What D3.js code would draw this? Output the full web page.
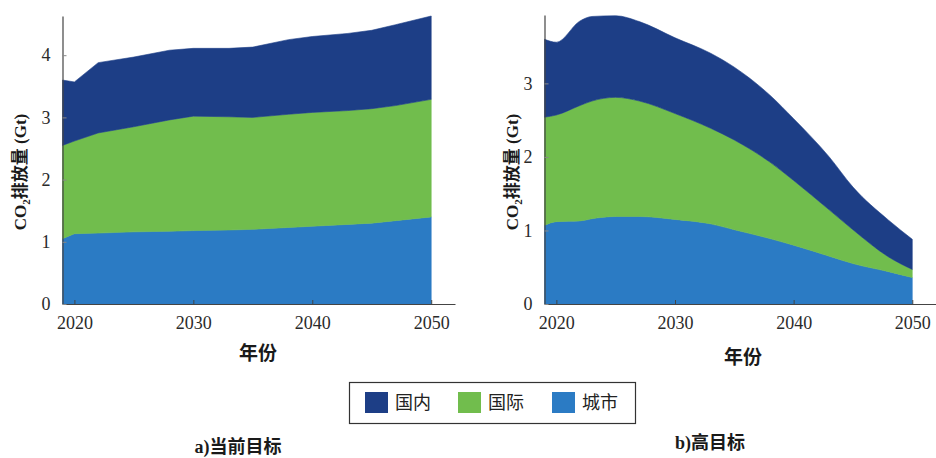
<!DOCTYPE html>
<html>
<head>
<meta charset="utf-8">
<script src="https://cdn.jsdelivr.net/npm/d3@7"></script>
<style>
  html, body { margin: 0; padding: 0; background: #fff; }
  svg { display: block; }
</style>
</head>
<body>
<svg id="chart" width="936" height="458"></svg>
<script>
// Series names (stack order: bottom to top) and colours
const seriesNames = ["城市", "国际", "国内"];
const seriesColors = ["#2b7bc4", "#71bd4d", "#1d3e86"];
const legendOrder = ["国内", "国际", "城市"];

// a) 当前目标 — CO2 emissions (Gt) by year
const yearsA = [2019, 2020, 2022, 2025, 2028, 2030, 2033, 2035, 2038, 2040, 2043, 2045, 2047, 2050];
const cityA     = [1.05, 1.13, 1.14, 1.16, 1.17, 1.18, 1.19, 1.20, 1.23, 1.25, 1.28, 1.30, 1.34, 1.40];
const intlA     = [1.50, 1.49, 1.61, 1.69, 1.79, 1.84, 1.82, 1.80, 1.82, 1.83, 1.83, 1.84, 1.85, 1.89];
const domesticA = [1.05, 0.95, 1.13, 1.12, 1.12, 1.09, 1.10, 1.13, 1.20, 1.22, 1.24, 1.26, 1.30, 1.34];

// b) 高目标 — CO2 emissions (Gt) by year
const yearsB = [2019, 2020, 2022, 2023, 2025, 2027, 2030, 2033, 2035, 2038, 2040, 2043, 2045, 2048, 2050];
const cityB     = [1.07, 1.12, 1.13, 1.16, 1.19, 1.19, 1.15, 1.09, 1.01, 0.89, 0.80, 0.65, 0.55, 0.44, 0.36];
const intlB     = [1.47, 1.45, 1.57, 1.60, 1.62, 1.57, 1.44, 1.30, 1.22, 1.04, 0.88, 0.63, 0.46, 0.20, 0.11];
const domesticB = [1.06, 0.99, 1.15, 1.15, 1.11, 1.08, 1.03, 1.02, 0.99, 0.91, 0.84, 0.72, 0.58, 0.50, 0.41];

// Axis ticks
const xTickValues = [2020, 2030, 2040, 2050];
const yTicksA = [0, 1, 2, 3, 4];
const yTicksB = [0, 1, 2, 3];

const titles = ["a)当前目标", "b)高目标"];
const xLabel = "年份";

const svg = d3.select("#chart");
const serif = "'Liberation Serif', 'Times New Roman', serif";
const cjkSerif = "'Liberation Serif', 'Noto Sans CJK SC', serif";
const cjk = "'Noto Sans CJK SC', sans-serif";

function buildRows(years, city, intl, dom) {
  return years.map((yr, i) => ({ year: yr, "城市": city[i], "国际": intl[i], "国内": dom[i] }));
}

function drawPanel(cfg) {
  const g = svg.append("g");
  const x = d3.scaleLinear().domain([2019, 2052]).range(cfg.xRange);
  const y = d3.scaleLinear().domain([0, cfg.yMax]).range([304, cfg.yTop]);

  const stack = d3.stack().keys(seriesNames);
  const layers = stack(cfg.rows);

  const area = d3.area()
    .x(d => x(d.data.year))
    .y0(d => y(d[0]))
    .y1(d => y(d[1]))
    .curve(cfg.curve);

  g.selectAll("path.layer")
    .data(layers)
    .join("path")
    .attr("class", "layer")
    .attr("d", area)
    .attr("fill", (d, i) => seriesColors[i])
    .attr("stroke", (d, i) => seriesColors[i])
    .attr("stroke-width", 0.6);

  // x axis with inward ticks
  const xAxis = d3.axisBottom(x).tickValues(xTickValues).tickFormat(d3.format("d"))
    .tickSizeInner(-4).tickSizeOuter(0).tickPadding(10);
  const gx = g.append("g").attr("transform", "translate(0,304)").call(xAxis);
  gx.select(".domain").attr("stroke", "#444").attr("stroke-width", 1.2);
  gx.selectAll(".tick line").attr("stroke", "#444");
  gx.selectAll(".tick text")
    .attr("font-family", serif).attr("font-size", 18).attr("fill", "#2a2a2a").attr("dy", "0.85em");

  // y axis with inward ticks
  const yAxis = d3.axisLeft(y).tickValues(cfg.yTicks).tickFormat(d3.format("d"))
    .tickSizeInner(-4).tickSizeOuter(0).tickPadding(12);
  const gy = g.append("g").attr("transform", `translate(${cfg.xRange[0]},0)`).call(yAxis);
  gy.select(".domain").attr("stroke", "#444").attr("stroke-width", 1.2);
  gy.selectAll(".tick line").attr("stroke", "#888");
  gy.selectAll(".tick text")
    .attr("font-family", serif).attr("font-size", 18).attr("fill", "#2a2a2a");

  // y axis title
  const yt = g.append("text")
    .attr("transform", `translate(${cfg.yLabelX},172) rotate(-90)`)
    .attr("text-anchor", "middle")
    .attr("font-family", cjkSerif).attr("font-weight", "bold")
    .attr("font-size", 17).attr("fill", "#1a1a1a");
  yt.append("tspan").text("CO");
  yt.append("tspan").text("2").attr("font-size", 11).attr("dy", 4);
  yt.append("tspan").text("排放量 (Gt)").attr("dy", -4);

  // x axis title
  g.append("text")
    .attr("x", cfg.xLabelX).attr("y", cfg.xLabelY)
    .attr("text-anchor", "middle")
    .attr("font-family", cjk).attr("font-weight", "bold")
    .attr("font-size", 19).attr("fill", "#1a1a1a")
    .text(xLabel);

  // panel caption
  g.append("text")
    .attr("x", cfg.titleX).attr("y", cfg.titleY)
    .attr("text-anchor", "middle")
    .attr("font-family", cjkSerif).attr("font-weight", "bold")
    .attr("font-size", 18).attr("fill", "#1a1a1a")
    .text(cfg.title);
}

drawPanel({
  rows: buildRows(yearsA, cityA, intlA, domesticA),
  xRange: [62.5, 455], yMax: 4.63, yTop: 16, yTicks: yTicksA,
  curve: d3.curveLinear,
  yLabelX: 26, xLabelX: 258, xLabelY: 360,
  titleX: 238, titleY: 453, title: titles[0]
});

drawPanel({
  rows: buildRows(yearsB, cityB, intlB, domesticB),
  xRange: [544.5, 936], yMax: 3.93, yTop: 15, yTicks: yTicksB,
  curve: d3.curveMonotoneX,
  yLabelX: 518, xLabelX: 743, xLabelY: 364,
  titleX: 710, titleY: 449, title: titles[1]
});

// Legend
const legend = svg.append("g");
legend.append("rect")
  .attr("x", 349.5).attr("y", 382.5).attr("width", 286).attr("height", 41)
  .attr("fill", "#fff").attr("stroke", "#333").attr("stroke-width", 1.2);

const legendX = [365, 458, 552];
legendOrder.forEach((name, i) => {
  const idx = seriesNames.indexOf(name);
  legend.append("rect")
    .attr("x", legendX[i]).attr("y", 392).attr("width", 23).attr("height", 21)
    .attr("fill", seriesColors[idx]);
  legend.append("text")
    .attr("x", legendX[i] + 30).attr("y", 409)
    .attr("font-family", cjk).attr("font-size", 18).attr("fill", "#222")
    .text(name);
});
</script>
</body>
</html>
